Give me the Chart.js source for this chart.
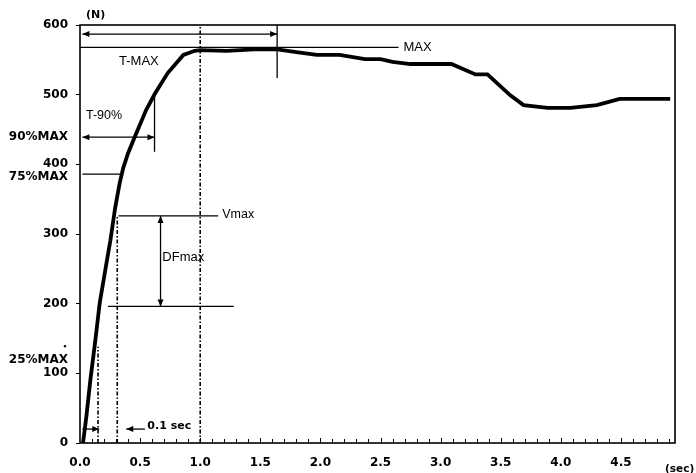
<!DOCTYPE html>
<html>
<head>
<meta charset="utf-8">
<script src="https://cdn.jsdelivr.net/npm/chart.js@4.4.1/dist/chart.umd.min.js"></script>
<style>
  html,body{margin:0;padding:0;background:#fff;}
  #wrap{width:696px;height:473px;}
</style>
</head>
<body>
<div id="wrap"><canvas id="c" width="696" height="473"></canvas></div>
<script>
// ---- data (sec, N) ----
const times  = [0.025,0.053,0.086,0.128,0.164,0.22,0.253,0.294,0.33,0.36,0.40,0.45,0.55,0.625,0.73,0.86,0.955,1.0,1.22,1.45,1.64,1.8,1.97,2.16,2.37,2.5,2.6,2.75,3.09,3.29,3.39,3.58,3.69,3.89,4.08,4.30,4.49,4.91];
const forces = [0,38,90,148,201,258,291,339,373,395,416,437,478,502,531,557,563,564,563,565,565,561,557,557,551,551,547,544,544,529,529,499,485,481,481,485,494,494];

const yTickValues = [0,100,200,300,400,500,600];
const xTickValues = [0.0,0.5,1.0,1.5,2.0,2.5,3.0,3.5,4.0,4.5];

// annotation values (in sec / N)
const maxLine    = [568, 0.0, 2.65];   // force, tStart, tEnd
const line75     = [386, 0.02, 0.34];
const vmaxLine   = [326, 0.32, 1.15];
const lowLine    = [196, 0.233, 1.28];
const tmaxMark   = [1.64, 524, 600];   // t, fLow, fHigh
const t90Mark    = [0.62, 418, 500];
const dashDot    = [[1.0, 0, 600], [0.31, 0, 326], [0.15, 0, 138]];
const tmaxArrow  = [587, 0.02, 1.64];
const t90Arrow   = [439, 0.02, 0.62];
const dfArrow    = [0.67, 196, 326];
const secArrowR  = [20, 0.02, 0.16];
const secArrowL  = [20, 0.54, 0.385];

const leftLabels = [['90%MAX', 439], ['75%MAX', 382], ['25%MAX', 120]];

const ARIAL = '"Liberation Sans", Arial, sans-serif';
const BOLDF = '"DejaVu Sans", sans-serif';

function arrowHead(ctx, x, y, dx, dy) {
  const L = 7, W = 3;
  const len = Math.hypot(dx, dy); const ux = dx/len, uy = dy/len;
  ctx.beginPath();
  ctx.moveTo(x, y);
  ctx.lineTo(x - ux*L - uy*W, y - uy*L + ux*W);
  ctx.lineTo(x - ux*L + uy*W, y - uy*L - ux*W);
  ctx.closePath(); ctx.fill();
}

const annot = {
  id: 'annot',
  beforeDatasetsDraw(chart) {
    const {ctx, scales:{x, y}} = chart;
    const X = v => x.getPixelForValue(v), Y = v => y.getPixelForValue(v);
    ctx.save();
    ctx.strokeStyle = '#000'; ctx.fillStyle = '#000';
    // dash-dot verticals
    ctx.lineWidth = 1.6; ctx.setLineDash([4,2,1.5,2]);
    dashDot.forEach(([t,f0,f1]) => { ctx.beginPath(); ctx.moveTo(X(t),Y(f0)); ctx.lineTo(X(t),Y(f1)); ctx.stroke(); });
    ctx.setLineDash([]);
    // horizontal lines
    ctx.lineWidth = 1.3;
    [maxLine, line75, vmaxLine, lowLine].forEach(([f,t0,t1]) => { ctx.beginPath(); ctx.moveTo(X(t0),Y(f)); ctx.lineTo(X(t1),Y(f)); ctx.stroke(); });
    // vertical marks
    [tmaxMark, t90Mark].forEach(([t,f0,f1]) => { ctx.beginPath(); ctx.moveTo(X(t),Y(f0)); ctx.lineTo(X(t),Y(f1)); ctx.stroke(); });
    // double arrows horizontal
    [tmaxArrow, t90Arrow].forEach(([f,t0,t1]) => {
      ctx.beginPath(); ctx.moveTo(X(t0),Y(f)); ctx.lineTo(X(t1),Y(f)); ctx.stroke();
      arrowHead(ctx, X(t0), Y(f), -1, 0); arrowHead(ctx, X(t1), Y(f), 1, 0);
    });
    // DFmax vertical double arrow
    { const [t,f0,f1] = dfArrow;
      ctx.beginPath(); ctx.moveTo(X(t),Y(f0)); ctx.lineTo(X(t),Y(f1)); ctx.stroke();
      arrowHead(ctx, X(t), Y(f0), 0, 1); arrowHead(ctx, X(t), Y(f1), 0, -1); }
    // small 0.1 sec arrows
    { const [f,t0,t1] = secArrowR;
      ctx.beginPath(); ctx.moveTo(X(t0),Y(f)); ctx.lineTo(X(t1),Y(f)); ctx.stroke();
      arrowHead(ctx, X(t1), Y(f), 1, 0); }
    { const [f,t0,t1] = secArrowL;
      ctx.beginPath(); ctx.moveTo(X(t0),Y(f)); ctx.lineTo(X(t1),Y(f)); ctx.stroke();
      arrowHead(ctx, X(t1), Y(f), -1, 0); }
    ctx.restore();
  },
  afterDraw(chart) {
    const {ctx, scales:{x, y}, chartArea:a} = chart;
    const X = v => x.getPixelForValue(v), Y = v => y.getPixelForValue(v);
    ctx.save();
    ctx.strokeStyle = '#000'; ctx.fillStyle = '#000';
    // frame
    ctx.lineWidth = 1.6;
    ctx.strokeRect(a.left, a.top, a.right - a.left, a.bottom - a.top);
    // x minor ticks (inside, upward)
    ctx.lineWidth = 1;
    for (let i = 1; i < 50; i++) {
      const px = Math.round(X(i/10)) + 0.5;
      ctx.beginPath(); ctx.moveTo(px, a.bottom); ctx.lineTo(px, a.bottom - (i % 5 === 0 ? 5 : 4)); ctx.stroke();
    }
    // texts
    ctx.textBaseline = 'middle';
    ctx.font = '13px ' + ARIAL;
    ctx.textAlign = 'center';
    ctx.fillText('T-MAX', X(0.49), Y(548));
    ctx.textAlign = 'left';
    ctx.fillText('MAX', X(maxLine[2]) + 5, Y(maxLine[0]));
    ctx.fillText('DFmax', X(0.685), Y(267));
    ctx.font = '12.5px ' + ARIAL;
    ctx.fillText('T-90%', X(0.05), Y(470));
    ctx.fillText('Vmax', X(vmaxLine[2]) + 4, Y(vmaxLine[0]) - 1);
    ctx.font = 'bold 11px ' + BOLDF;
    ctx.fillText('0.1 sec', X(0.56), Y(24));
    ctx.fillText('(N)', a.left + 6, a.top - 10);
    ctx.font = 'bold 10.5px ' + BOLDF;
    ctx.fillText('(sec)', a.right - 10, 469);
    ctx.font = 'bold 12px ' + BOLDF;
    ctx.textAlign = 'right';
    leftLabels.forEach(([s, f]) => ctx.fillText(s, a.left - 12, Y(f)));
    // small dot above the X of 25%MAX
    ctx.beginPath(); ctx.arc(a.left - 15, Y(139), 1.2, 0, Math.PI*2); ctx.fill();
    ctx.restore();
  }
};

new Chart(document.getElementById('c'), {
  type: 'line',
  data: {
    datasets: [{
      data: times.map((t, i) => ({x: t, y: forces[i]})),
      borderColor: '#000',
      borderWidth: 3.8,
      pointRadius: 0,
      tension: 0,
      fill: false
    }]
  },
  options: {
    responsive: false,
    devicePixelRatio: 1,
    animation: false,
    layout: { padding: { top: 25, right: 21, left: 0, bottom: 0 } },
    plugins: { legend: { display: false }, tooltip: { enabled: false } },
    scales: {
      x: {
        type: 'linear', min: 0, max: 4.95,
        afterFit(s) { s.height = 30; },
        afterBuildTicks(s) { s.ticks = xTickValues.map(v => ({value: v})); },
        grid: { display: false, drawTicks: false },
        border: { display: false },
        ticks: {
          padding: 13, color: '#000',
          font: { family: BOLDF, size: 12, weight: 'bold' },
          callback: v => Number(v).toFixed(1)
        }
      },
      y: {
        min: 0, max: 600,
        afterFit(s) { s.width = 80; },
        afterBuildTicks(s) { s.ticks = yTickValues.map(v => ({value: v})); },
        grid: { drawOnChartArea: false, drawTicks: true, tickLength: 4, color: '#000' },
        border: { display: false },
        ticks: {
          padding: 8, color: '#000',
          font: { family: BOLDF, size: 12, weight: 'bold' }
        }
      }
    }
  },
  plugins: [annot]
});
</script>
</body>
</html>
